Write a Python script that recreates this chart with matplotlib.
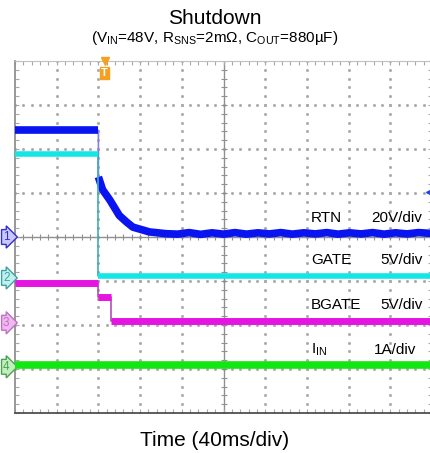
import numpy as np
import matplotlib
matplotlib.use("Agg")
import matplotlib.pyplot as plt

plt.rcParams['font.family'] = ['Liberation Sans', 'DejaVu Sans']
plt.rcParams['mathtext.fontset'] = 'custom'
plt.rcParams['mathtext.rm'] = 'Liberation Sans'

# time in ms, scope is 40ms/div, 10 div wide
t_lim = [-200, 200]

# channel data (physical units)
rtn_t = [-200, -120, -120, -116, -109, -100, -93, -87, -71, -55, -44, -33, -22, -11, 0, 11, 22,
         33, 44, 55, 66, 77, 88, 99, 110, 121, 132, 143, 154, 165, 176, 187, 200]
rtn_v = [48.5, 48.5, 27.3, 21.5, 16.8, 9.8, 6.8, 4.5, 2.3, 1.5, 1.3, 2.0, 1.2, 1.9, 1.3, 2.0, 1.3,
         1.9, 1.4, 2.0, 1.3, 1.9, 1.4, 2.0, 1.3, 1.9, 1.4, 2.0, 1.3, 1.9, 1.4, 2.0, 1.6]

gate_t = [-200, -120, -120, 200]
gate_v = [14.1, 14.1, 0.17, 0.17]

bgate_t = [-200, -120, -120, -108, -108, 200]
bgate_v = [4.5, 4.5, 2.95, 2.95, 0.17, 0.17]

iin_t = [-200, 200]
iin_a = [0.045, 0.045]

# scope settings per channel: name, scale label, units/div, ground offset (div)
ch_names = ["RTN", "GATE", "BGATE", "I$_{\\mathregular{IN}}$"]
ch_scales = ["20V/div", "5V/div", "5V/div", "1A/div"]
ch_per_div = [20, 5, 5, 1]
ch_offset = [0.0, -0.93, -1.95, -2.95]
ch_colors = ["#0a14f0", "#12e6e6", "#e614e0", "#14e614"]
ch_edge_colors = ["#8080f0", "#40b0b0", "#b050b0", "#30b030"]
ch_tab_fill = ["#c8c8ff", "#c0f0f0", "#f0b8f0", "#c0f0c0"]
ch_tab_edge = ["#3030d0", "#40a0a0", "#c070c0", "#50a050"]
trigger_t = -114

fig = plt.figure(figsize=(4.30, 4.53), dpi=100)
W, H = 430.0, 453.0
ax = fig.add_axes([15 / W, 1 - 413 / H, 417 / W, 352 / H])
ax.set_xlim(t_lim)
ax.set_ylim(-4, 4)

# scope graticule: dotted major lines
gcol = "#a8a8a8"
minor_x = np.arange(-200, 201, 8)
minor_y = np.arange(-4, 4.01, 0.2)
for tx in range(-160, 161, 40):
    if tx == 0:
        continue
    ax.plot([tx] * len(minor_y), minor_y, ls="none", marker="s", ms=1.0, color=gcol, zorder=1)
for yy in range(-3, 4):
    if yy == 0:
        continue
    ax.plot(minor_x, [yy] * len(minor_x), ls="none", marker="s", ms=1.0, color=gcol, zorder=1)
ax.axvline(0, color="#909090", lw=1.0, zorder=1)
ax.axhline(0, color="#909090", lw=1.0, zorder=1)
ax.plot(minor_x, [0] * len(minor_x), ls="none", marker="|", ms=5, mew=0.8, color="#909090", zorder=1)
ax.plot([0] * len(minor_y), minor_y, ls="none", marker="_", ms=5, mew=0.8, color="#909090", zorder=1)

ax.set_xticks(minor_x)
ax.set_yticks(minor_y)
ax.tick_params(direction="in", length=3, width=0.8, color="#a8a8a8",
               top=True, right=True, labelbottom=False, labelleft=False)
for s in ["top", "right"]:
    ax.spines[s].set_color("#c0c0c0")
ax.spines["left"].set_color("#909090")
ax.spines["left"].set_linewidth(1.3)
ax.spines["bottom"].set_color("#505050")
ax.spines["bottom"].set_linewidth(1.3)

# traces: thick band for the level runs, thin line for the fast edges
series = [(rtn_t, rtn_v), (gate_t, gate_v), (bgate_t, bgate_v), (iin_t, iin_a)]
widths = [5.5, 4.0, 5.0, 5.5]
for i, (tt, vv) in enumerate(series):
    y = np.array(vv) / ch_per_div[i] + ch_offset[i]
    tt = np.array(tt)
    ax.plot(tt, y, color=ch_edge_colors[i], lw=1.2, zorder=3 + i)
    start = 0
    for k in range(1, len(tt) + 1):
        if k == len(tt) or tt[k] == tt[k - 1]:
            ax.plot(tt[start:k], y[start:k], color=ch_colors[i], lw=widths[i],
                    solid_capstyle="butt", solid_joinstyle="round", zorder=3 + i)
            start = k

# labels on the screen
lab_y = [0.43, -0.52, -1.55, -2.57]
for i in range(4):
    ax.text(84, lab_y[i], ch_names[i], fontsize=11, ha="left", va="center", zorder=9)
    ax.text(191 if i < 3 else 185, lab_y[i], ch_scales[i], fontsize=11,
            ha="right", va="center", zorder=9)

# channel ground tabs at left edge
for i in range(4):
    yfig = (ch_offset[i] + 4) / 8
    ax.text(-0.021, yfig, str(i + 1), transform=ax.transAxes, fontsize=8.5,
            color=ch_tab_edge[i], ha="center", va="center", clip_on=False,
            bbox=dict(boxstyle="rarrow,pad=0.12", fc=ch_tab_fill[i], ec=ch_tab_edge[i], lw=1))

# trigger marker
ax.plot([trigger_t], [4], marker="v", ms=6, color="#f5a020", clip_on=False, zorder=10)
ax.text(trigger_t, 3.72, "T", fontsize=8, fontweight="bold", color="white",
        ha="center", va="center", zorder=10,
        bbox=dict(boxstyle="square,pad=0.1", fc="#f5a020", ec="#f5a020", lw=1.0))
# cursor marker at right edge
ax.plot([197], [1.02], marker="<", ms=5, color="#2040f0", clip_on=False, zorder=10)

fig.text(0.5, 1 - 18 / H, "Shutdown", fontsize=15, ha="center", va="center")
fig.text(0.5, 1 - 38 / H,
         "(V$_{\\mathregular{IN}}$=48V, R$_{\\mathregular{SNS}}$=2mΩ, C$_{\\mathregular{OUT}}$=880µF)",
         fontsize=11, ha="center", va="center")
fig.text(0.5, 1 - 441 / H, "Time (40ms/div)", fontsize=15, ha="center", va="center")

fig.savefig("out.png", dpi=100)
